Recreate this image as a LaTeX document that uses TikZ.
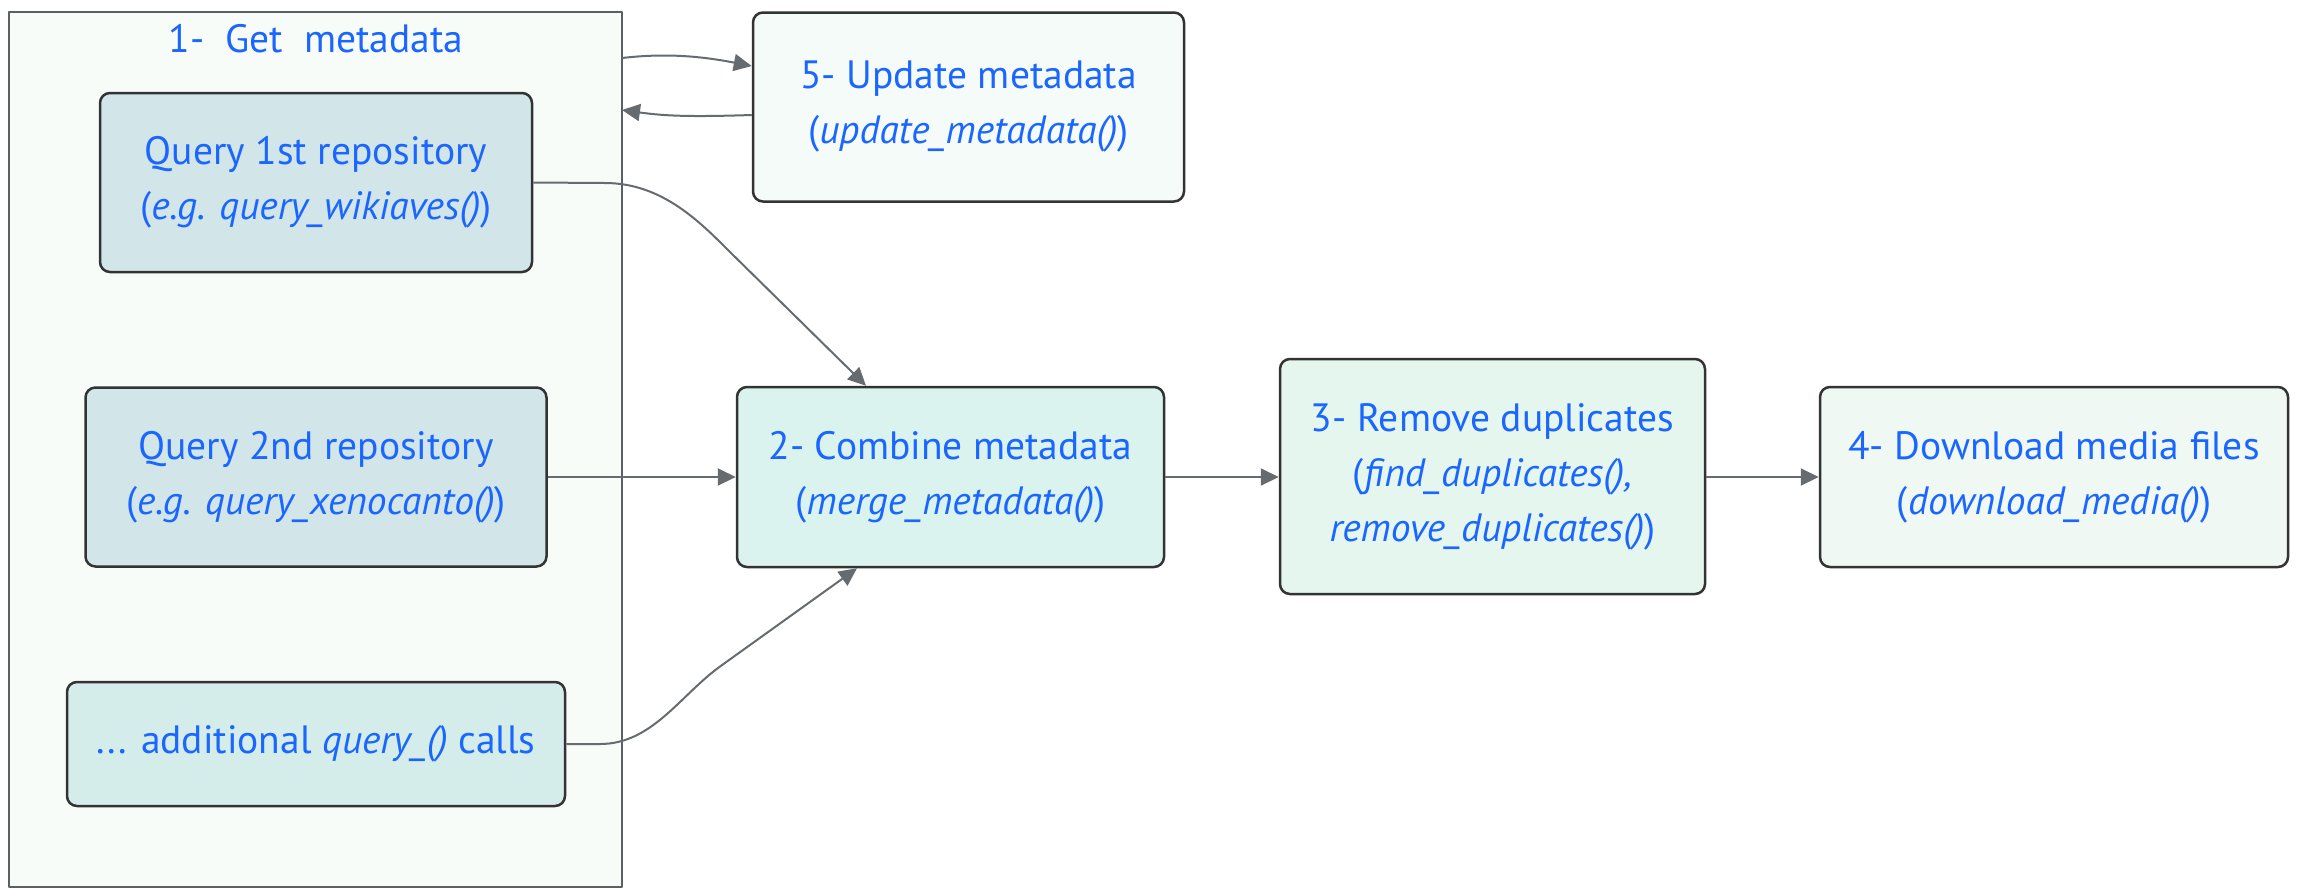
\documentclass[tikz,border=0pt]{standalone}
\usepackage{fontspec}
\setmainfont{PT Sans}
\usetikzlibrary{arrows.meta}
\definecolor{txtblue}{HTML}{1A66FF}
\definecolor{linegray}{HTML}{666B70}
\definecolor{boxline}{HTML}{333333}
\definecolor{clusterfill}{HTML}{F7FCF9}
\definecolor{queryfill}{HTML}{D2E5E8}
\definecolor{addfill}{HTML}{D4EDEA}
\definecolor{combinefill}{HTML}{DBF3EF}
\definecolor{removefill}{HTML}{E5F6EF}
\definecolor{downloadfill}{HTML}{EFF8F3}
\definecolor{updatefill}{HTML}{F5FBF8}
\tikzset{
  stepnode/.style={draw=boxline,line width=2.5pt,rounded corners=10pt,align=center,
    text=txtblue,font=\fontsize{39.5}{55}\selectfont,inner sep=0pt},
  conn/.style={draw=linegray,line width=2pt,-{Triangle[length=18pt,width=17pt]}},
}
\begin{document}
\begin{tikzpicture}[x=1pt,y=-1pt,line join=round]
  \useasboundingbox (0,0) rectangle (2298,895);
  % cluster
  \draw[draw=linegray!90!black,line width=2pt,fill=clusterfill] (9,12) rectangle (622,887);
  \node[text=txtblue,font=\fontsize{39.5}{55}\selectfont,anchor=base] (title) at (316,52) {1-\ \ Get\ \ metadata};
  % nodes
  \node[stepnode,fill=queryfill,minimum width=432pt,minimum height=179pt] (q1) at (316,182.5)
    {Query 1st repository\\(\textit{e.g. query\_wikiaves()})};
  \node[stepnode,fill=queryfill,minimum width=461pt,minimum height=179pt] (q2) at (316,477)
    {Query 2nd repository\\(\textit{e.g. query\_xenocanto()})};
  \node[stepnode,fill=addfill,minimum width=498pt,minimum height=124pt] (add) at (316,744)
    {... additional \textit{query\_()} calls};
  \node[stepnode,fill=updatefill,minimum width=431pt,minimum height=189pt] (update) at (968.5,107)
    {5- Update metadata\\(\textit{update\_metadata()})};
  \node[stepnode,fill=combinefill,minimum width=427pt,minimum height=180pt] (combine) at (950.5,477)
    {2- Combine metadata\\(\textit{merge\_metadata()})};
  \node[stepnode,fill=removefill,minimum width=425pt,minimum height=235pt] (remove) at (1492.5,476.5)
    {3- Remove duplicates\\(\textit{find\_duplicates(),}\\\textit{remove\_duplicates()})};
  \node[stepnode,fill=downloadfill,minimum width=468pt,minimum height=180pt] (download) at (2054,477)
    {4- Download media files\\(\textit{download\_media()})};
  \coordinate (cltop) at (622,58);
  \coordinate (clbot) at (622,110);
  % connectors
  \draw[conn] (cltop) .. controls (665,53) and (700,56) .. (update.west |- 0,66);
  \draw[conn] (update.west |- 0,115) .. controls (690,117) and (665,116) .. (clbot);
  \draw[conn] (q1.east) -- (605,183) .. controls (662,183) and (700,222) .. (730,252) -- (combine.north -| 866,0);
  \draw[conn] (q2.east) -- (combine.west);
  \draw[conn] (add.east) -- (600,744) .. controls (652,744) and (680,695.5) .. (720,666.5) -- (combine.south -| 857,0);
  \draw[conn] (combine.east) -- (remove.west |- combine.east);
  \draw[conn] (remove.east |- combine.east) -- (download.west);
\end{tikzpicture}
\end{document}
